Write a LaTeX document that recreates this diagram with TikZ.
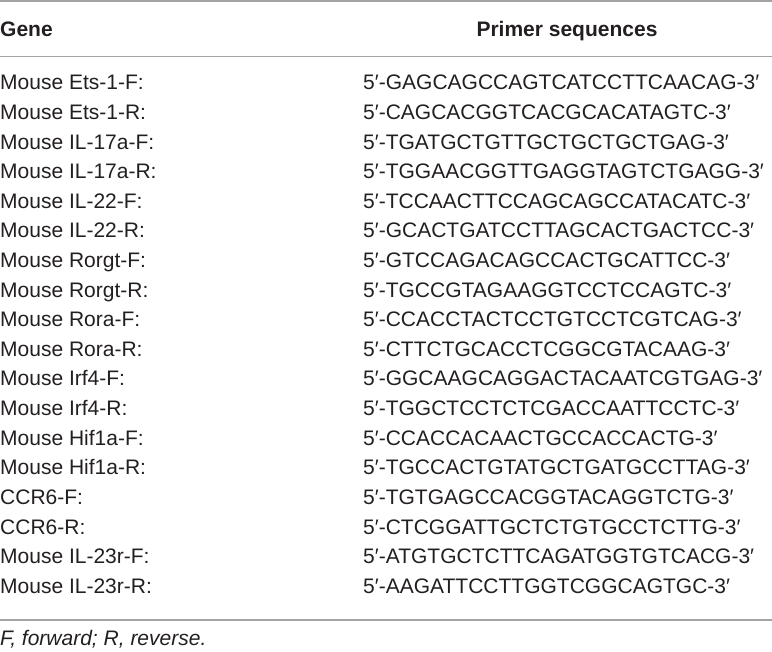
\documentclass[tikz,border=0pt]{standalone}
\usepackage{fontspec}
\setmainfont{Liberation Sans}
\usetikzlibrary{positioning}
\definecolor{txtgray}{HTML}{231F20}
\definecolor{rulegray}{HTML}{A3A3A3}

\begin{document}
\begin{tikzpicture}[x=1pt,y=-1pt]
    % Define styles
    \tikzstyle{cell} = [anchor=base west, inner sep=0pt, font=\fontsize{21}{24}\selectfont, text=txtgray]
    \tikzstyle{head} = [cell, font=\fontsize{21}{24}\selectfont\bfseries]
    \tikzstyle{rule} = [draw=rulegray, line width=1.5pt]

    \useasboundingbox (0,0) rectangle (772,652);

    % Rules
    \draw[rule, line width=2pt] (0,1) -- (772,1);
    \draw[rule] (0,56.5) -- (772,56.5);
    \draw[rule, line width=1.2pt] (0,620) -- (772,620);

    % Header
    \node[head] (gene) at (0,37) {Gene};
    \node[head, anchor=base] (primer) at (567,37) {Primer sequences};

    % Rows
    \foreach \g/\s [count=\i] in {
        Mouse Ets-1-F:/GAGCAGCCAGTCATCCTTCAACAG,
        Mouse Ets-1-R:/CAGCACGGTCACGCACATAGTC,
        Mouse IL-17a-F:/TGATGCTGTTGCTGCTGCTGAG,
        Mouse IL-17a-R:/TGGAACGGTTGAGGTAGTCTGAGG,
        Mouse IL-22-F:/TCCAACTTCCAGCAGCCATACATC,
        Mouse IL-22-R:/GCACTGATCCTTAGCACTGACTCC,
        Mouse Rorgt-F:/GTCCAGACAGCCACTGCATTCC,
        Mouse Rorgt-R:/TGCCGTAGAAGGTCCTCCAGTC,
        Mouse Rora-F:/CCACCTACTCCTGTCCTCGTCAG,
        Mouse Rora-R:/CTTCTGCACCTCGGCGTACAAG,
        Mouse Irf4-F:/GGCAAGCAGGACTACAATCGTGAG,
        Mouse Irf4-R:/TGGCTCCTCTCGACCAATTCCTC,
        Mouse Hif1a-F:/CCACCACAACTGCCACCACTG,
        Mouse Hif1a-R:/TGCCACTGTATGCTGATGCCTTAG,
        CCR6-F:/TGTGAGCCACGGTACAGGTCTG,
        CCR6-R:/CTCGGATTGCTCTGTGCCTCTTG,
        Mouse IL-23r-F:/ATGTGCTCTTCAGATGGTGTCACG,
        Mouse IL-23r-R:/AAGATTCCTTGGTCGGCAGTGC} {
        \node[cell] (gene\i) at (0,{90+29.6*(\i-1)}) {\g};
        \node[cell] (seq\i) at (363,{90+29.6*(\i-1)}) {5′-\s-3′};
    }

    % Footnote
    \node[cell, font=\fontsize{21}{24}\selectfont\itshape] (note) at (0,645) {F, forward; R, reverse.};

\end{tikzpicture}
\end{document}
